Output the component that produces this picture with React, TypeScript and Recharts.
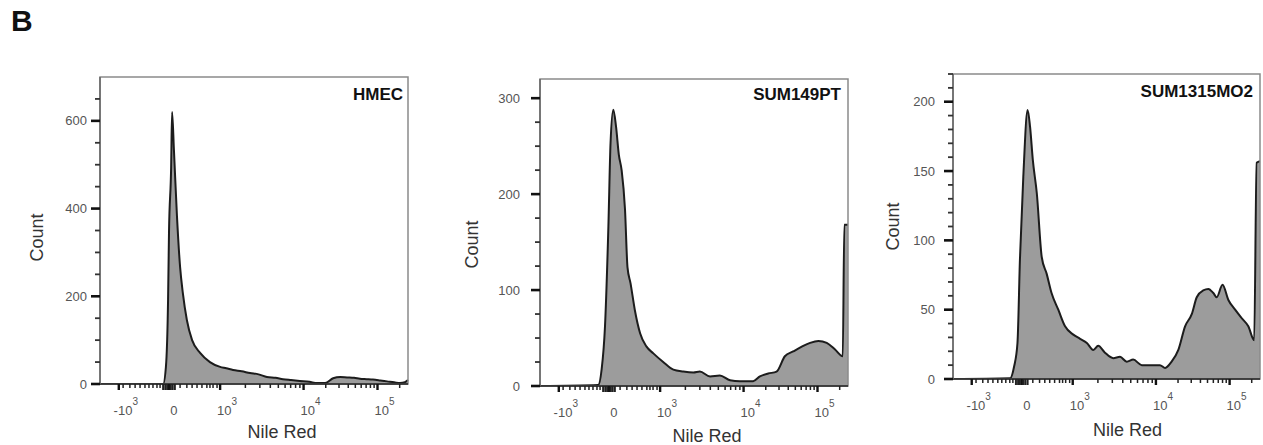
import { AreaChart, Area, XAxis, YAxis, ReferenceArea, Label } from "recharts";

// x axis is a logicle (biexponential) display, kept in channel units 0..1000
const X_MAX = 1000;
const X_TICKS = [61, 224, 390, 661, 901];
const X_TICK_LABELS = [
  ["-10", "3"],
  ["0", ""],
  ["10", "3"],
  ["10", "4"],
  ["10", "5"],
];
const X_MINOR = [
  75, 97, 114, 130, 146, 159, 172, 185, 195,
  260, 282, 299, 315, 331, 347, 357, 367, 380,
  472, 519, 553, 579, 601, 619, 635, 649,
  733, 776, 806, 829, 848, 864, 878, 890, 973,
];
const X_ZERO = [205, 212, 218, 230, 236, 243];

// HMEC
const HMEC_CH = [0, 205, 214, 221, 224, 231, 234, 240, 250, 260, 269, 282, 299, 325, 357, 390, 410, 432, 460, 487, 515, 542, 570, 594, 620, 649, 680, 705, 731, 757, 780, 802, 825, 844, 866, 886, 910, 932, 955, 974, 990, 1000];
const HMEC_COUNT = [0, 0, 39, 192, 344, 495, 620, 534, 381, 267, 207, 146, 100, 71, 50, 39, 36, 32, 29, 25, 22, 16, 14, 11, 9, 7, 5, 2, 2, 13, 16, 15, 14, 12, 11, 10, 8, 6, 4, 2, 4, 9];

// SUM149PT
const S149_CH = [0, 189, 200, 211, 222, 229, 238, 247, 256, 265, 276, 284, 294, 308, 325, 346, 368, 400, 433, 465, 498, 519, 552, 584, 617, 649, 692, 714, 741, 768, 795, 822, 850, 877, 904, 931, 958, 983, 988, 1000];
const S149_COUNT = [0, 1, 17, 62, 166, 253, 288, 270, 241, 225, 184, 124, 107, 79, 55, 41, 34, 25, 17, 15, 14, 15, 10, 11, 6, 5, 5, 10, 13, 15, 31, 36, 41, 45, 47, 45, 38, 31, 168, 168];

// SUM1315MO2
const S1315_CH = [0, 186, 199, 210, 218, 229, 243, 251, 260, 273, 289, 305, 321, 343, 365, 392, 414, 436, 457, 473, 495, 522, 544, 566, 587, 615, 642, 674, 691, 712, 734, 756, 778, 794, 815, 832, 848, 859, 878, 897, 919, 940, 962, 981, 989, 1000];
const S1315_COUNT = [0, 0.5, 9, 26, 86, 146, 194, 182, 158, 134, 88, 76, 62, 50, 38, 32, 29, 26, 21, 24, 19, 15, 16, 12.5, 14, 10, 10, 10, 8, 12.5, 21, 38, 47, 59, 64, 65, 62, 59, 68, 57, 50, 44, 38, 28, 156, 157];

const FONT = "'Liberation Sans', Arial, sans-serif";

const XTick = (props: any) => {
  const { x, y, payload } = props;
  const v = payload.value;
  const idx = X_TICKS.indexOf(v);
  if (idx >= 0) {
    const [base, exp] = X_TICK_LABELS[idx];
    return (
      <g>
        <path d={`M${x},${y}V${y + 6}`} stroke="#111" strokeWidth={2.4} />
        <text x={x + (exp ? 7 : 5)} y={y + 31} textAnchor="middle" fontSize={13} fill="#555" fontFamily={FONT}>
          {base}
          {exp && (
            <tspan dy={-10} fontSize={10}>
              {exp}
            </tspan>
          )}
        </text>
      </g>
    );
  }
  const zero = X_ZERO.includes(v);
  return <path d={`M${x},${y}V${y + (zero ? 6 : 4)}`} stroke="#222" strokeWidth={zero ? 2 : 1.5} />;
};

const YTick = (props: any) => {
  const { x, y, payload, majors, labelGap } = props;
  const v = payload.value;
  if (majors.includes(v)) {
    return (
      <g>
        <path d={`M${x - 9},${y}H${x}`} stroke="#111" strokeWidth={2.6} />
        <text x={x - labelGap} y={y + 4.5} textAnchor="end" fontSize={13} fill="#555" fontFamily={FONT}>
          {v}
        </text>
      </g>
    );
  }
  return <path d={`M${x - 5},${y}H${x}`} stroke="#333" strokeWidth={1.8} />;
};

interface PanelProps {
  title: string;
  ch: number[];
  counts: number[];
  yMax: number;
  yMajor: number[];
  yMinor: number[];
  left: number;
  width: number;
  margin: { top: number; right: number; bottom: number; left: number };
  labelGap: number;
  titleDx: number;
  titleDy: number;
  xLabelDx: number;
  xLabelDy: number;
  yLabelDx: number;
  yLabelDy: number;
}

function Panel(p: PanelProps) {
  const data = p.ch.map((c, i) => ({ ch: c, count: p.counts[i] }));

  return (
    <div style={{ position: "absolute", left: p.left, top: 60 }}>
      <AreaChart width={p.width} height={385} data={data} margin={p.margin}>
        <XAxis
          dataKey="ch"
          type="number"
          domain={[0, X_MAX]}
          ticks={[...X_TICKS, ...X_MINOR, ...X_ZERO]}
          interval={0}
          tickSize={0}
          tickMargin={0}
          tickLine={false}
          tick={<XTick />}
          axisLine={{ stroke: "#222", strokeWidth: 1.5 }}
          height={30}
        >
          <Label
            content={(lp: any) => {
              const vb = lp.viewBox;
              return (
                <text
                  x={vb.x + vb.width / 2 + p.xLabelDx}
                  y={vb.y + p.xLabelDy}
                  textAnchor="middle"
                  fontSize={18}
                  fill="#333"
                  fontFamily={FONT}
                >
                  Nile Red
                </text>
              );
            }}
          />
        </XAxis>
        <YAxis
          type="number"
          domain={[0, p.yMax]}
          ticks={[...p.yMajor, ...p.yMinor]}
          interval={0}
          tickSize={0}
          tickMargin={0}
          tickLine={false}
          tick={<YTick majors={p.yMajor} labelGap={p.labelGap} />}
          axisLine={{ stroke: "#666", strokeWidth: 1.5 }}
          width={40}
          allowDataOverflow
        >
          <Label
            content={(lp: any) => {
              const vb = lp.viewBox;
              const cx = vb.x + vb.width + p.yLabelDx;
              const cy = vb.y + vb.height / 2 + p.yLabelDy;
              return (
                <text
                  x={cx}
                  y={cy}
                  transform={`rotate(-90 ${cx} ${cy})`}
                  textAnchor="middle"
                  dominantBaseline="central"
                  fontSize={18}
                  fill="#333"
                  fontFamily={FONT}
                >
                  Count
                </text>
              );
            }}
          />
        </YAxis>
        <Area
          dataKey="count"
          type="monotone"
          stroke="#1c1c1c"
          strokeWidth={2}
          fill="#9c9c9c"
          fillOpacity={1}
          dot={false}
          activeDot={false}
          isAnimationActive={false}
        />
        <ReferenceArea
          x1={0}
          x2={X_MAX}
          y1={0}
          y2={p.yMax}
          fill="none"
          stroke="#8a8a8a"
          strokeWidth={1.5}
          label={(lp: any) => {
            const vb = lp.viewBox;
            return (
              <text
                x={vb.x + vb.width + p.titleDx}
                y={vb.y + p.titleDy}
                textAnchor="end"
                fontSize={17}
                fontWeight="bold"
                fill="#111"
                fontFamily={FONT}
              >
                {p.title}
              </text>
            );
          }}
        />
      </AreaChart>
    </div>
  );
}

export default function App() {
  return (
    <div style={{ position: "absolute", left: 0, top: 0, width: 1263, height: 445, background: "#fff", fontFamily: FONT }}>
      <div style={{ position: "absolute", left: 11, top: 6, fontSize: 30, lineHeight: 1, fontWeight: "bold", color: "#111" }}>B</div>
      <Panel
        title="HMEC"
        ch={HMEC_CH}
        counts={HMEC_COUNT}
        yMax={700}
        yMajor={[0, 200, 400, 600]}
        yMinor={[50, 100, 150, 250, 300, 350, 450, 500, 550, 650]}
        left={0}
        width={420}
        margin={{ top: 17, right: 12, bottom: 31, left: 60 }}
        labelGap={13}
        titleDx={-5}
        titleDy={23}
        xLabelDx={28}
        xLabelDy={54}
        yLabelDx={-63}
        yLabelDy={7}
      />
      <Panel
        title="SUM149PT"
        ch={S149_CH}
        counts={S149_COUNT}
        yMax={320}
        yMajor={[0, 100, 200, 300]}
        yMinor={[25, 50, 75, 125, 150, 175, 225, 250, 275]}
        left={420}
        width={430}
        margin={{ top: 19, right: 2, bottom: 29, left: 80 }}
        labelGap={20}
        titleDx={-7}
        titleDy={21}
        xLabelDx={13}
        xLabelDy={56}
        yLabelDx={-68}
        yLabelDy={12}
      />
      <Panel
        title="SUM1315MO2"
        ch={S1315_CH}
        counts={S1315_COUNT}
        yMax={220}
        yMajor={[0, 50, 100, 150, 200]}
        yMinor={[10, 20, 30, 40, 60, 70, 80, 90, 110, 120, 130, 140, 160, 170, 180, 190, 210, 220]}
        left={850}
        width={413}
        margin={{ top: 14, right: 3, bottom: 36, left: 63 }}
        labelGap={18}
        titleDx={-7}
        titleDy={23}
        xLabelDx={21}
        xLabelDy={57}
        yLabelDx={-60}
        yLabelDy={0}
      />
    </div>
  );
}
